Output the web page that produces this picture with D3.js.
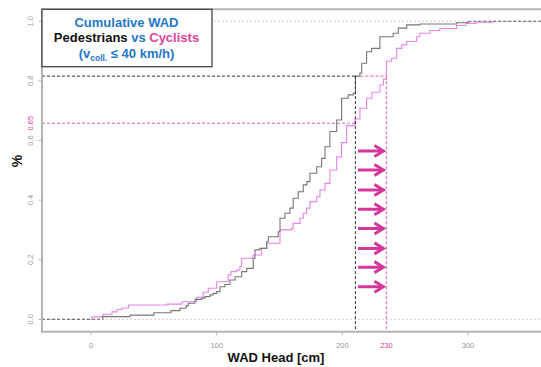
<!DOCTYPE html>
<html>
<head>
<meta charset="utf-8">
<script src="https://cdn.jsdelivr.net/npm/d3@7"></script>
<style>
  body { margin: 0; background: #fff; }
  text { font-family: "Liberation Sans", Arial, sans-serif; }
</style>
</head>
<body>
<div id="chart"></div>
<script>
// cumulative WAD (x in cm, y = share)
const pedX = [9.5, 31.0, 50.1, 63.6, 70.8, 75.6, 77.4, 82.7, 88.1, 90.7, 94.7, 97.3, 100.0, 102.6, 106.6, 110.6, 114.6, 119.9, 123.9, 129.1, 130.5, 134.4, 139.8, 141.1, 149.0, 150.4, 154.3, 158.3, 160.9, 164.9, 168.9, 171.8, 174.2, 179.6, 183.5, 186.2, 190.1, 195.5, 199.4, 204.7, 208.7, 210.4, 214.0, 215.4, 219.3, 223.3, 229.9, 240.5, 244.5, 251.2, 261.7, 290.9, 300.2];
const pedY = [0.009, 0.014, 0.022, 0.029, 0.037, 0.045, 0.054, 0.067, 0.071, 0.076, 0.082, 0.087, 0.093, 0.109, 0.117, 0.132, 0.143, 0.160, 0.171, 0.205, 0.233, 0.238, 0.260, 0.277, 0.294, 0.339, 0.356, 0.373, 0.406, 0.428, 0.451, 0.462, 0.490, 0.512, 0.540, 0.579, 0.630, 0.669, 0.742, 0.753, 0.758, 0.816, 0.826, 0.859, 0.898, 0.909, 0.948, 0.960, 0.977, 0.988, 0.991, 0.995, 1.0];

const cycX = [0.8, 9.5, 16.7, 20.7, 24.7, 29.8, 60.5, 72.4, 84.1, 89.3, 93.3, 100.0, 109.2, 111.4, 115.9, 118.5, 119.9, 128.9, 135.8, 139.8, 150.4, 159.7, 160.9, 166.3, 168.9, 171.6, 174.2, 179.6, 182.2, 186.2, 190.1, 195.5, 199.4, 203.4, 210.0, 214.0, 219.3, 223.5, 229.9, 232.7, 235.1, 239.2, 243.2, 247.2, 251.2, 259.1, 261.7, 269.7, 277.6, 290.9, 298.3, 306.8, 319.8];
const cycY = [0.008, 0.017, 0.025, 0.033, 0.038, 0.048, 0.051, 0.059, 0.074, 0.091, 0.104, 0.126, 0.149, 0.160, 0.165, 0.177, 0.205, 0.216, 0.238, 0.255, 0.300, 0.305, 0.322, 0.339, 0.356, 0.373, 0.395, 0.411, 0.434, 0.456, 0.501, 0.545, 0.593, 0.650, 0.672, 0.708, 0.742, 0.762, 0.786, 0.805, 0.866, 0.876, 0.909, 0.921, 0.932, 0.948, 0.960, 0.969, 0.976, 0.986, 0.993, 0.997, 1.0];

const xTicks = [0, 100, 200, 300];
const yTicks = [0, 0.2, 0.4, 0.6, 0.8, 1.0];
const refX = [210.4, 235.1];      // where the dashed verticals sit
const refXLabel = "230";
const refY = [0.816, 0.658];      // dashed horizontals
const refYLabel = "0.65";
const arrowY = [0.565, 0.501, 0.434, 0.369, 0.305, 0.238, 0.175, 0.109];
const arrowX = [212.5, 232.7];

const W = 541, H = 367;
const plot = {left: 42, top: 9.3, right: 541, bottom: 331.7};

const grey = "#777", violet = "#e884ea", pink = "#e45cb4", deep = "#d4379b", blue = "#1f78c9";

const svg = d3.select("#chart").append("svg")
	.attr("width", W)
	.attr("height", H);

const x = d3.scaleLinear().domain([0, 300]).range([91, 468]);
const y = d3.scaleLinear().domain([0, 1]).range([319.3, 21.3]);

svg.append("clipPath").attr("id", "clip")
	.append("rect")
	.attr("x", plot.left).attr("y", plot.top)
	.attr("width", plot.right - plot.left).attr("height", plot.bottom - plot.top);

const g = svg.append("g").attr("clip-path", "url(#clip)");

// 0 and 1 lines
g.selectAll(".lvl")
	.data([0, 1])
	.join("line")
	.attr("x1", plot.left).attr("x2", plot.right)
	.attr("y1", d => y(d)).attr("y2", d => y(d))
	.attr("stroke", "#cdcdcd")
	.attr("stroke-width", 1)
	.attr("stroke-dasharray", "2,2");

const line = d3.line()
	.x(d => x(d[0]))
	.y(d => y(d[1]))
	.curve(d3.curveStepAfter);

function drawEcdf(xs, ys, col, extCol) {
	const pts = [[xs[0], 0]].concat(xs.map((v, i) => [v, ys[i]]));
	// tails
	g.append("line")
		.attr("x1", plot.left).attr("x2", x(xs[0]))
		.attr("y1", y(0)).attr("y2", y(0))
		.attr("stroke", extCol).attr("stroke-width", 1)
		.attr("stroke-dasharray", "3,2");
	g.append("line")
		.attr("x1", x(xs[xs.length - 1])).attr("x2", plot.right)
		.attr("y1", y(1)).attr("y2", y(1))
		.attr("stroke", extCol).attr("stroke-width", 1)
		.attr("stroke-dasharray", "3,2");
	g.append("path")
		.datum(pts)
		.attr("d", line)
		.attr("fill", "none")
		.attr("stroke", col)
		.attr("stroke-width", 1.1);
}

drawEcdf(cycX, cycY, violet, "#e99ae8");
drawEcdf(pedX, pedY, grey, "#666");

// dashed reference lines
g.append("line")
	.attr("x1", plot.left).attr("x2", x(refX[0]))
	.attr("y1", y(refY[1])).attr("y2", y(refY[1]))
	.attr("stroke", pink).attr("stroke-width", 1).attr("stroke-dasharray", "3,2");
g.append("line")
	.attr("x1", x(refX[0])).attr("x2", x(refX[1]))
	.attr("y1", y(refY[0])).attr("y2", y(refY[0]))
	.attr("stroke", pink).attr("stroke-width", 1).attr("stroke-dasharray", "3,2");
g.append("line")
	.attr("x1", x(refX[1])).attr("x2", x(refX[1]))
	.attr("y1", y(refY[0])).attr("y2", plot.bottom)
	.attr("stroke", "#ec7cc6").attr("stroke-width", 1.3).attr("stroke-dasharray", "3,2");
g.append("line")
	.attr("x1", plot.left).attr("x2", x(refX[0]))
	.attr("y1", y(refY[0])).attr("y2", y(refY[0]))
	.attr("stroke", "#333").attr("stroke-width", 1).attr("stroke-dasharray", "3,2");
g.append("line")
	.attr("x1", x(refX[0])).attr("x2", x(refX[0]))
	.attr("y1", y(refY[0])).attr("y2", plot.bottom)
	.attr("stroke", "#333").attr("stroke-width", 1).attr("stroke-dasharray", "3,2");

// arrows
const arr = g.append("g")
	.attr("fill", "none")
	.attr("stroke", deep)
	.attr("stroke-width", 3)
	.selectAll("g")
	.data(arrowY)
	.join("g");
arr.append("line")
	.attr("x1", x(arrowX[0])).attr("x2", x(arrowX[1]) - 1.5)
	.attr("y1", d => y(d)).attr("y2", d => y(d));
arr.append("path")
	.attr("d", d => {
		const tx = x(arrowX[1]), ty = y(d);
		return `M${tx - 9},${ty - 5.5}L${tx},${ty}L${tx - 9},${ty + 5.5}`;
	});

// frame
svg.append("path")
	.attr("d", `M${plot.right + 5},${plot.top}H${plot.left}V${plot.bottom}H${plot.right + 5}`)
	.attr("fill", "none")
	.attr("stroke", "#b4b4b4")
	.attr("stroke-width", 2);

// x axis
svg.selectAll(".xt")
	.data(xTicks)
	.join("line")
	.attr("x1", d => x(d)).attr("x2", d => x(d))
	.attr("y1", plot.bottom).attr("y2", plot.bottom + 3.5)
	.attr("stroke", "#b4b4b4").attr("stroke-width", 1);
svg.selectAll(".xl")
	.data(xTicks)
	.join("text")
	.attr("x", d => x(d))
	.attr("y", 348)
	.attr("text-anchor", "middle")
	.attr("font-size", 7.5)
	.attr("fill", "#999")
	.text(d => d);
svg.append("text")
	.attr("x", x(refX[1]))
	.attr("y", 348)
	.attr("text-anchor", "middle")
	.attr("font-size", 7.5)
	.attr("fill", "#d8439e")
	.text(refXLabel);

// y axis
svg.selectAll(".yt")
	.data(yTicks)
	.join("line")
	.attr("x1", plot.left - 3.5).attr("x2", plot.left)
	.attr("y1", d => y(d)).attr("y2", d => y(d))
	.attr("stroke", "#b4b4b4").attr("stroke-width", 1);
svg.selectAll(".yl")
	.data(yTicks)
	.join("text")
	.attr("transform", d => `translate(32.5,${y(d)}) rotate(-90)`)
	.attr("text-anchor", "middle")
	.attr("font-size", 7.5)
	.attr("fill", "#999")
	.text(d => d.toFixed(1));
svg.append("text")
	.attr("transform", `translate(32.5,${y(refY[1])}) rotate(-90)`)
	.attr("text-anchor", "middle")
	.attr("font-size", 7.5)
	.attr("fill", "#d8439e")
	.text(refYLabel);

// axis titles
svg.append("text")
	.attr("x", 276).attr("y", 361.5)
	.attr("text-anchor", "middle")
	.attr("font-size", 13)
	.attr("font-weight", "bold")
	.attr("fill", "#111")
	.text("WAD Head [cm]");
svg.append("text")
	.attr("transform", "translate(21.5,161) rotate(-90)")
	.attr("text-anchor", "middle")
	.attr("font-size", 14)
	.attr("font-weight", "bold")
	.attr("fill", "#111")
	.text("%");

// legend box
svg.append("rect")
	.attr("x", plot.left).attr("y", plot.top)
	.attr("width", 170).attr("height", 57.4)
	.attr("fill", "#fff")
	.attr("stroke", "#444")
	.attr("stroke-width", 1.3);

const lg = svg.append("g")
	.attr("font-size", 13)
	.attr("font-weight", "bold")
	.attr("text-anchor", "middle");
lg.append("text").attr("x", 126.5).attr("y", 26.7).attr("fill", blue).text("Cumulative WAD");
const l2 = lg.append("text").attr("x", 126.5).attr("y", 41.7);
l2.append("tspan").attr("fill", "#111").text("Pedestrians");
l2.append("tspan").attr("fill", blue).text(" vs ");
l2.append("tspan").attr("fill", "#e0449c").text("Cyclists");
const l3 = lg.append("text").attr("x", 126.5).attr("y", 57.5).attr("fill", blue);
l3.append("tspan").text("(v");
l3.append("tspan").attr("font-size", 8.5).attr("dy", 3).text("coll.");
l3.append("tspan").attr("dy", -3).text(" \u2264 40 km/h)");
</script>
</body>
</html>
